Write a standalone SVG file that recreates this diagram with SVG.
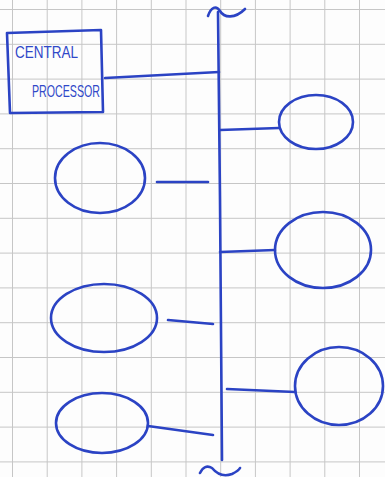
<svg xmlns="http://www.w3.org/2000/svg" width="385" height="477" viewBox="0 0 385 477">
<defs>
<pattern id="grid" x="12" y="9" width="34.7" height="34.8" patternUnits="userSpaceOnUse">
<path d="M0,0 V34.8 M0,0 H34.7" fill="none" stroke="#c6c6c6" stroke-width="2"/>
</pattern>
<style>
.ink{fill:none;stroke:#2b43c4;stroke-width:2.6;stroke-linecap:round;stroke-linejoin:round}
.lbl{font-family:"Liberation Sans",Arial,sans-serif;font-size:17px;fill:#3048c8}
</style>
</defs>
<rect width="385" height="477" fill="#fdfdfd"/>
<rect width="385" height="477" fill="url(#grid)"/>
<g id="bus">
<path class="ink" d="M218,12 L220,200 L222,460"/>
<path class="ink" d="M208,16 C211,7 216,5 220,11 C224,18 235,19 245,9"/>
<path class="ink" d="M200,473 C203,467 207,465 212,468 C217,474 224,477 232,474 C236,472 239,470 240,468"/>
</g>
<g id="central-processor">
<path class="ink" d="M7,33 L101,30 L103,112 L10,113 Z"/>
<text class="lbl" x="15" y="58" textLength="63" lengthAdjust="spacingAndGlyphs">CENTRAL</text>
<text class="lbl" x="32" y="97" textLength="68" lengthAdjust="spacingAndGlyphs">PROCESSOR</text>
</g>
<g id="node-r1"><ellipse class="ink" cx="316" cy="122" rx="37" ry="27"/></g>
<g id="node-l1"><ellipse class="ink" cx="100" cy="178" rx="45" ry="35"/></g>
<g id="node-r2"><ellipse class="ink" cx="323" cy="250" rx="48" ry="38"/></g>
<g id="node-l2"><ellipse class="ink" cx="104" cy="318" rx="53" ry="34"/></g>
<g id="node-r3"><ellipse class="ink" cx="339" cy="386" rx="44" ry="39"/></g>
<g id="node-l3"><ellipse class="ink" cx="102" cy="423" rx="46" ry="30"/></g>
<g id="connectors">
<path class="ink" d="M105,78 L219,72"/>
<path class="ink" d="M220,130 L279,128"/>
<path class="ink" d="M157,182 L208,182"/>
<path class="ink" d="M220,252 L275,250"/>
<path class="ink" d="M168,320 L213,324"/>
<path class="ink" d="M227,389 L295,392"/>
<path class="ink" d="M148,426 L213,435"/>
</g>
</svg>
